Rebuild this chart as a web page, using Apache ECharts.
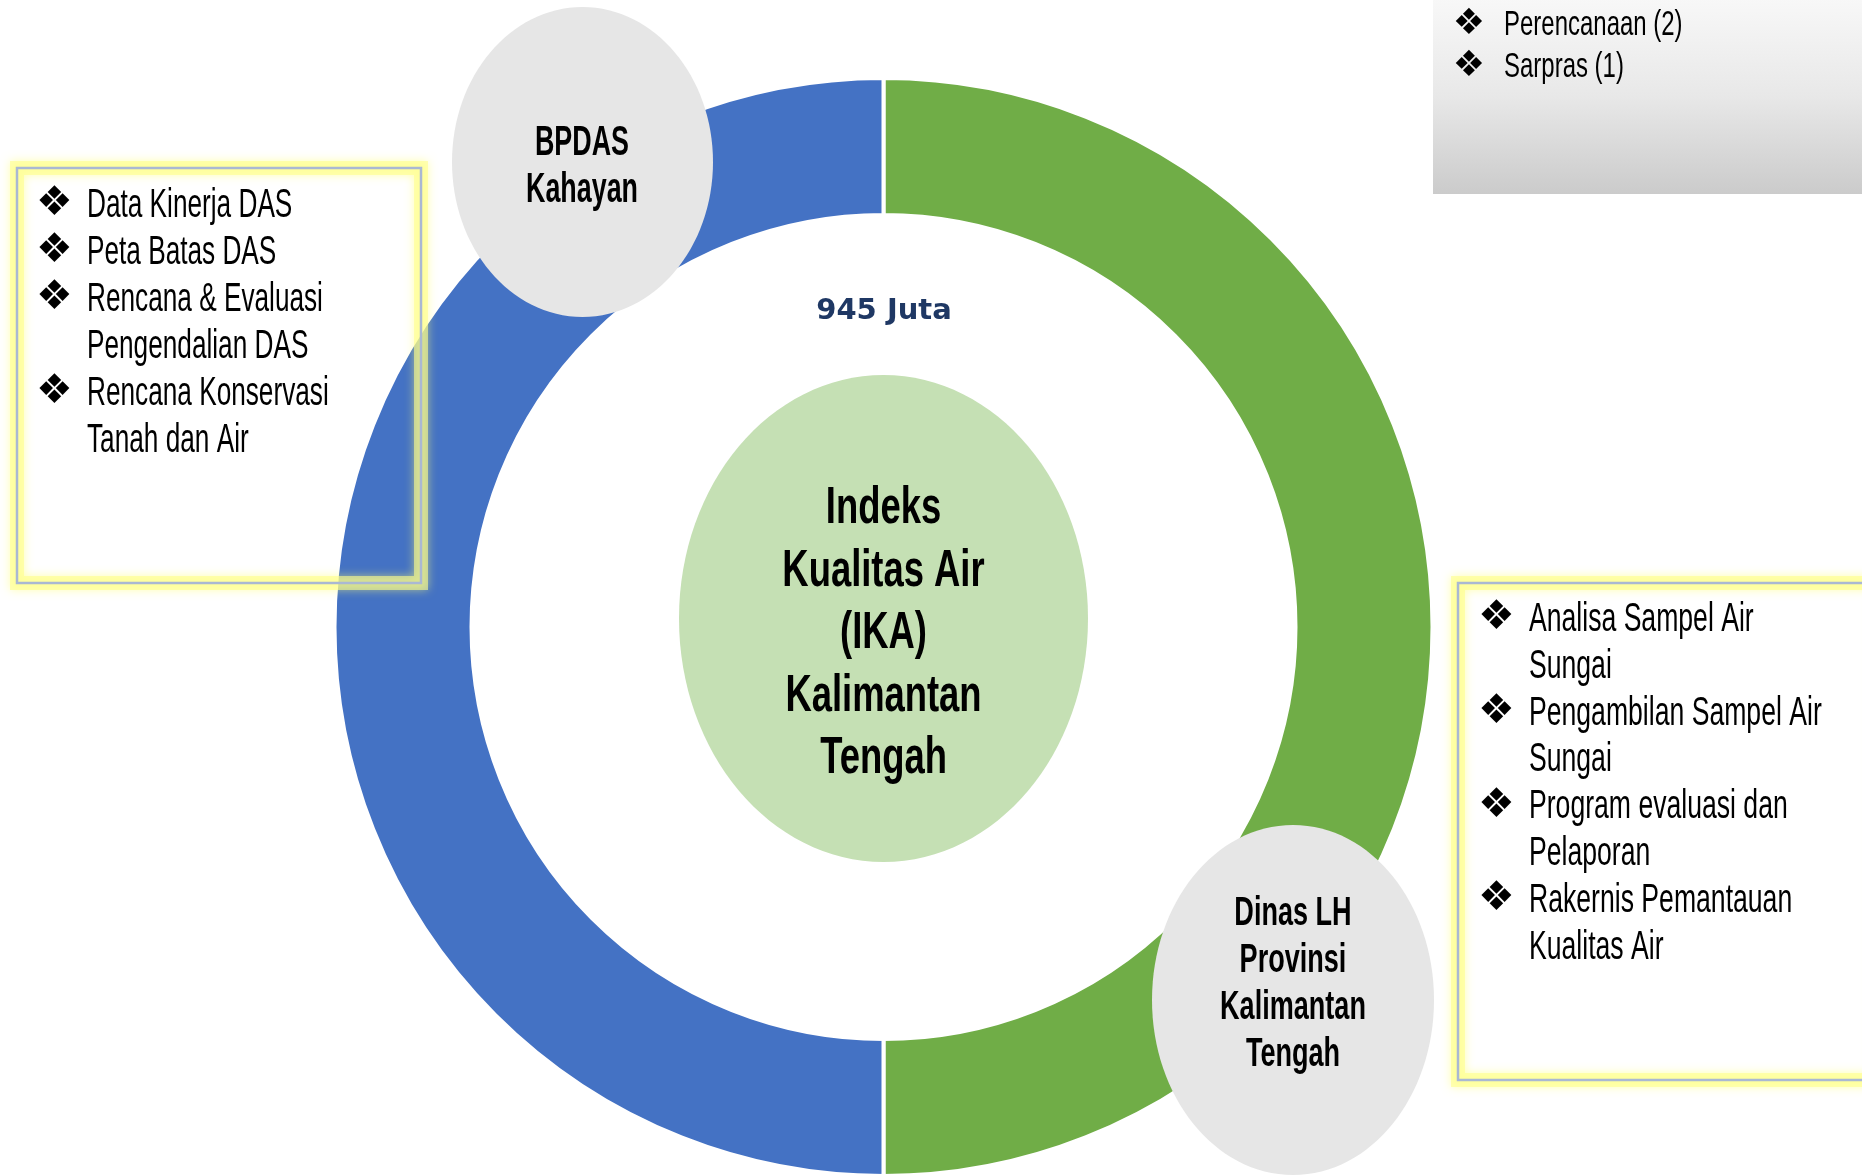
<!DOCTYPE html>
<html>
<head>
<meta charset="utf-8">
<script src="https://cdn.jsdelivr.net/npm/echarts@6/dist/echarts.min.js"></script>
<style>
html,body{margin:0;padding:0;background:#fff;}
#chart{width:1862px;height:1176px;}
</style>
</head>
<body>
<div id="chart"></div>
<script>
// ---- data ----
const ringNames = ['Dinas LH Provinsi Kalimantan Tengah', 'BPDAS Kahayan'];
const ringValues = [50, 50];
const budgetLabel = '945 Juta';
const centerLines = ['Indeks', 'Kualitas Air', '(IKA)', 'Kalimantan', 'Tengah'];
const bpdasLines = ['BPDAS', 'Kahayan'];
const dinasLines = ['Dinas LH', 'Provinsi', 'Kalimantan', 'Tengah'];
const leftItems = [['Data Kinerja DAS'], ['Peta Batas DAS'], ['Rencana & Evaluasi', 'Pengendalian DAS'], ['Rencana Konservasi', 'Tanah dan Air']];
const rightItems = [['Analisa Sampel Air', 'Sungai'], ['Pengambilan Sampel Air', 'Sungai'], ['Program evaluasi dan', 'Pelaporan'], ['Rakernis Pemantauan', 'Kualitas Air']];
const topRightItems = [['Perencanaan (2)'], ['Sarpras (1)']];

// ---- helpers ----
const FAM = '"Liberation Sans", Arial, sans-serif';
function txt(str, x, baseline, size, weight, scale, align, color) {
  return {
    type: 'text', x: x, y: baseline - 0.35 * size, scaleX: scale, z: 30, silent: true,
    style: { text: str, x: 0, y: 0, fill: color || '#000',
      font: weight + ' ' + size + 'px ' + FAM, align: align, verticalAlign: 'middle' }
  };
}
function bullet(x, y, size) {
  return {
    type: 'text', x: x, y: y, z: 30, silent: true,
    style: { text: '\u2756', x: 0, y: 0, fill: '#000', font: size + 'px "DejaVu Sans"', align: 'center', verticalAlign: 'middle' }
  };
}
function list(items, bx, tx, firstBaseline, step, size, scale, bSize) {
  const out = [];
  let b = firstBaseline;
  items.forEach(lines => {
    out.push(bullet(bx, b - size * 0.38, bSize));
    lines.forEach(l => { out.push(txt(l, tx, b, size, 'normal', scale, 'left')); b += step; });
  });
  return out;
}
function block(lines, cx, firstBaseline, step, size, scale) {
  return lines.map((l, i) => txt(l, cx, firstBaseline + i * step, size, 'bold', scale, 'center'));
}
function glowBox(x, y, w, h) {
  return [
    { type: 'rect', z: 25, silent: true, shape: { x: x, y: y, width: w, height: h },
      style: { fill: 'none', stroke: 'rgba(255,255,140,0.6)', lineWidth: 14, shadowBlur: 10, shadowColor: 'rgba(255,255,110,0.9)' } },
    { type: 'rect', z: 26, silent: true, shape: { x: x, y: y, width: w, height: h },
      style: { fill: 'none', stroke: '#AAB8D3', lineWidth: 2.5 } }
  ];
}

const graphics = [];
// top-right gray box
graphics.push({ type: 'rect', z: 5, silent: true, shape: { x: 1433, y: -2, width: 440, height: 196 },
  style: { fill: { type: 'linear', x: 0, y: 0, x2: 0, y2: 1, colorStops: [{ offset: 0, color: '#f8f8f8' }, { offset: 0.5, color: '#e8e8e8' }, { offset: 1, color: '#cbcbcb' }] } } });
// faint corner shape
graphics.push({ type: 'ellipse', z: 5, silent: true, shape: { cx: -55, cy: 1235, rx: 62, ry: 90 }, style: { fill: '#DCE4F2' } });
// center ellipse
graphics.push({ type: 'ellipse', z: 10, silent: true, shape: { cx: 883.5, cy: 618.5, rx: 204.5, ry: 243.5 }, style: { fill: '#C5E0B4' } });
// gray ellipses
graphics.push({ type: 'ellipse', z: 10, silent: true, shape: { cx: 582.5, cy: 162, rx: 130.5, ry: 155 }, style: { fill: '#E6E6E6' } });
graphics.push({ type: 'ellipse', z: 10, silent: true, shape: { cx: 1293, cy: 1000, rx: 141, ry: 175 }, style: { fill: '#E6E6E6' } });
// boxes
glowBox(17, 168, 404, 415).forEach(g => graphics.push(g));
glowBox(1458, 583, 420, 497).forEach(g => graphics.push(g));
// texts
const bl = txt(budgetLabel, 884, 322, 29, 'bold', 1, 'center', '#1F3864');
bl.style.font = 'bold 29px "DejaVu Sans", Verdana, sans-serif';
graphics.push(bl);
block(centerLines, 883.5, 527, 62.5, 52, 0.70).forEach(g => graphics.push(g));
block(bpdasLines, 582, 158, 47, 42, 0.64).forEach(g => graphics.push(g));
block(dinasLines, 1293, 928.5, 46.8, 41, 0.66).forEach(g => graphics.push(g));
list(leftItems, 54.5, 87, 220, 47, 40, 0.655, 41).forEach(g => graphics.push(g));
list(rightItems, 1496.5, 1529, 634, 46.8, 40, 0.665, 41).forEach(g => graphics.push(g));
list(topRightItems, 1469, 1504, 37.5, 42, 35, 0.685, 36).forEach(g => graphics.push(g));

const chart = echarts.init(document.getElementById('chart'), null, { renderer: 'canvas' });
chart.setOption({
  animation: false,
  backgroundColor: '#ffffff',
  series: [{
    type: 'pie',
    center: [883.5, 627],
    radius: [412, 549],
    startAngle: 90,
    clockwise: true,
    label: { show: false },
    labelLine: { show: false },
    emphasis: { disabled: true },
    silent: true,
    itemStyle: { borderColor: '#ffffff', borderWidth: 4 },
    data: ringNames.map((n, i) => ({ name: n, value: ringValues[i],
      itemStyle: { color: i === 0 ? '#70AD47' : '#4472C4' } }))
  }],
  graphic: { elements: graphics }
});
</script>
</body>
</html>
